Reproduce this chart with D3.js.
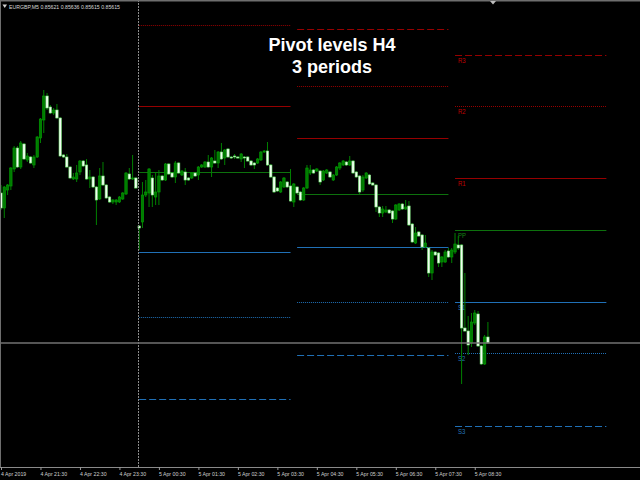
<!DOCTYPE html>
<html><head><meta charset="utf-8">
<script src="https://cdn.jsdelivr.net/npm/d3@7"></script>
<style>
html,body{margin:0;padding:0;background:#000;overflow:hidden}
svg{display:block}
</style></head><body>
<svg id="chart" width="640" height="480"></svg>
<script>
// ---------------- data ----------------
const symbol = "EURGBP";
const timeframe = "M5";
const firstBar = "2019-04-04T20:30:00Z";
const barMinutes = 5;

const open = [0.85765,0.85750,0.85768,0.85772,0.85789,0.85810,0.85791,0.85814,0.85798,0.85801,
0.85793,0.85801,0.85820,0.85838,0.85862,0.85851,0.85845,0.85848,0.85840,0.85803,
0.85801,0.85791,0.85779,0.85779,0.85786,0.85797,0.85793,0.85779,0.85781,0.85771,
0.85759,0.85782,0.85773,0.85761,0.85756,0.85756,0.85756,0.85759,0.85764,0.85784,
0.85779,0.85780,0.85732,0.85736,0.85763,0.85765,0.85780,0.85761,0.85766,0.85782,
0.85778,0.85794,0.85785,0.85781,0.85795,0.85783,0.85786,0.85780,0.85780,0.85785,
0.85783,0.85791,0.85791,0.85796,0.85791,0.85797,0.85795,0.85806,0.85800,0.85809,
0.85801,0.85802,0.85801,0.85799,0.85801,0.85801,0.85797,0.85795,0.85795,0.85798,
0.85806,0.85807,0.85793,0.85781,0.85770,0.85766,0.85771,0.85776,0.85772,0.85756,
0.85771,0.85766,0.85758,0.85770,0.85785,0.85788,0.85787,0.85787,0.85778,0.85785,
0.85786,0.85778,0.85783,0.85790,0.85793,0.85796,0.85793,0.85797,0.85786,0.85782,
0.85768,0.85780,0.85783,0.85775,0.85773,0.85751,0.85745,0.85746,0.85748,0.85747,
0.85739,0.85748,0.85754,0.85749,0.85752,0.85734,0.85715,0.85726,0.85723,0.85711,
0.85710,0.85685,0.85706,0.85705,0.85696,0.85696,0.85707,0.85701,0.85706,0.85713,
0.85713,0.85630,0.85627,0.85615,0.85635,0.85644,0.85612,0.85594,0.85621];

const high = [0.85773,0.85772,0.85774,0.85791,0.85812,0.85812,0.85817,0.85815,0.85805,0.85802,
0.85803,0.85822,0.85840,0.85868,0.85865,0.85853,0.85850,0.85854,0.85841,0.85804,
0.85804,0.85792,0.85785,0.85793,0.85798,0.85798,0.85799,0.85788,0.85782,0.85772,
0.85790,0.85796,0.85774,0.85762,0.85759,0.85759,0.85762,0.85766,0.85786,0.85790,
0.85803,0.85781,0.85733,0.85776,0.85778,0.85790,0.85783,0.85786,0.85788,0.85783,
0.85795,0.85795,0.85786,0.85797,0.85796,0.85788,0.85790,0.85781,0.85786,0.85786,
0.85792,0.85794,0.85797,0.85803,0.85801,0.85808,0.85807,0.85815,0.85809,0.85810,
0.85802,0.85804,0.85802,0.85805,0.85802,0.85802,0.85798,0.85796,0.85800,0.85807,
0.85808,0.85816,0.85794,0.85782,0.85771,0.85777,0.85781,0.85777,0.85789,0.85775,
0.85772,0.85767,0.85771,0.85793,0.85793,0.85789,0.85790,0.85788,0.85788,0.85789,
0.85787,0.85784,0.85792,0.85796,0.85798,0.85797,0.85802,0.85798,0.85787,0.85783,
0.85783,0.85786,0.85784,0.85776,0.85774,0.85752,0.85752,0.85752,0.85749,0.85748,
0.85754,0.85755,0.85755,0.85758,0.85757,0.85735,0.85731,0.85727,0.85724,0.85723,
0.85711,0.85708,0.85707,0.85706,0.85702,0.85708,0.85710,0.85710,0.85725,0.85722,
0.85714,0.85685,0.85642,0.85645,0.85648,0.85647,0.85613,0.85623,0.85636];

const low = [0.85748,0.85740,0.85763,0.85768,0.85786,0.85790,0.85789,0.85798,0.85796,0.85794,
0.85790,0.85800,0.85815,0.85825,0.85848,0.85844,0.85843,0.85839,0.85801,0.85800,
0.85790,0.85779,0.85778,0.85776,0.85783,0.85791,0.85778,0.85770,0.85770,0.85733,
0.85758,0.85772,0.85759,0.85755,0.85754,0.85753,0.85755,0.85758,0.85763,0.85778,
0.85778,0.85769,0.85708,0.85730,0.85761,0.85751,0.85751,0.85753,0.85753,0.85777,
0.85777,0.85783,0.85780,0.85775,0.85784,0.85782,0.85773,0.85777,0.85779,0.85781,
0.85778,0.85790,0.85790,0.85790,0.85781,0.85794,0.85790,0.85798,0.85793,0.85800,
0.85799,0.85799,0.85799,0.85796,0.85790,0.85796,0.85792,0.85789,0.85794,0.85797,
0.85805,0.85792,0.85780,0.85765,0.85766,0.85765,0.85770,0.85770,0.85756,0.85751,
0.85764,0.85757,0.85757,0.85769,0.85783,0.85784,0.85786,0.85773,0.85777,0.85784,
0.85780,0.85777,0.85782,0.85788,0.85792,0.85792,0.85792,0.85784,0.85780,0.85764,
0.85766,0.85779,0.85773,0.85772,0.85746,0.85741,0.85741,0.85745,0.85744,0.85735,
0.85738,0.85747,0.85748,0.85748,0.85732,0.85715,0.85714,0.85721,0.85708,0.85710,
0.85681,0.85678,0.85702,0.85691,0.85691,0.85695,0.85700,0.85695,0.85704,0.85708,
0.85574,0.85626,0.85603,0.85611,0.85633,0.85611,0.85593,0.85593,0.85615];

const close = [0.85750,0.85771,0.85773,0.85790,0.85810,0.85791,0.85815,0.85799,0.85802,0.85795,
0.85801,0.85821,0.85839,0.85862,0.85850,0.85845,0.85848,0.85840,0.85802,0.85801,
0.85791,0.85780,0.85781,0.85785,0.85797,0.85792,0.85779,0.85781,0.85771,0.85758,
0.85782,0.85773,0.85760,0.85756,0.85758,0.85758,0.85761,0.85765,0.85785,0.85779,
0.85780,0.85770,0.85730,0.85763,0.85766,0.85789,0.85763,0.85766,0.85782,0.85778,
0.85794,0.85784,0.85781,0.85795,0.85785,0.85787,0.85778,0.85778,0.85785,0.85782,
0.85791,0.85793,0.85796,0.85791,0.85800,0.85795,0.85806,0.85799,0.85808,0.85801,
0.85800,0.85801,0.85800,0.85804,0.85800,0.85797,0.85793,0.85793,0.85799,0.85806,
0.85807,0.85793,0.85781,0.85766,0.85767,0.85776,0.85780,0.85771,0.85757,0.85774,
0.85765,0.85758,0.85770,0.85790,0.85788,0.85785,0.85789,0.85776,0.85787,0.85788,
0.85781,0.85783,0.85791,0.85795,0.85797,0.85793,0.85797,0.85785,0.85781,0.85766,
0.85781,0.85785,0.85774,0.85773,0.85751,0.85745,0.85749,0.85748,0.85745,0.85739,
0.85753,0.85754,0.85749,0.85751,0.85733,0.85716,0.85725,0.85722,0.85711,0.85715,
0.85685,0.85706,0.85703,0.85695,0.85701,0.85706,0.85701,0.85708,0.85714,0.85710,
0.85630,0.85627,0.85613,0.85636,0.85645,0.85612,0.85594,0.85621,0.85615];

// H4 pivot periods and their levels
const periodStarts = ["2019-04-05T00:00:00Z","2019-04-05T04:00:00Z","2019-04-05T08:00:00Z"];
const periodDrawMinutes = 230;
const levelNames = ["R3","R2","R1","PP","S1","S2","S3"];
const levelR3 = [0.85998,0.85929,0.85903];
const levelR2 = [0.85933,0.85872,0.85852];
const levelR1 = [0.85852,0.85820,0.85780];
const levelPP = [0.85786,0.85764,0.85728];
const levelS1 = [0.85706,0.85711,0.85656];
const levelS2 = [0.85641,0.85656,0.85605];
const levelS3 = [0.85559,0.85603,0.85532];

const daySeparators = ["2019-04-05T00:00:00Z"];
const tickTimes = ["2019-04-04T20:30:00Z","2019-04-04T21:30:00Z","2019-04-04T22:30:00Z","2019-04-04T23:30:00Z",
"2019-04-05T00:30:00Z","2019-04-05T01:30:00Z","2019-04-05T02:30:00Z","2019-04-05T03:30:00Z","2019-04-05T04:30:00Z",
"2019-04-05T05:30:00Z","2019-04-05T06:30:00Z","2019-04-05T07:30:00Z","2019-04-05T08:30:00Z"];
const tickLabels = ["4 Apr 2019","4 Apr 21:30","4 Apr 22:30","4 Apr 23:30","5 Apr 00:30","5 Apr 01:30",
"5 Apr 02:30","5 Apr 03:30","5 Apr 04:30","5 Apr 05:30","5 Apr 06:30","5 Apr 07:30","5 Apr 08:30"];
const titleLines = ["Pivot levels H4","3 periods"];
const priceMin = 0.85491, priceMax = 0.85958;

// ---------------- drawing ----------------
const W = 640, H = 480, plotBottom = 467, barSpacing = 3.29;
const svg = d3.select("#chart");
svg.append("rect").attr("width",W).attr("height",H).attr("fill","#000");

const t0 = new Date(firstBar);
const nBars = close.length;
const times = d3.range(nBars).map(i => new Date(t0.getTime() + i*barMinutes*60000));
const x = d3.scaleUtc()
  .domain([t0, times[nBars-1]])
  .range([1, 1 + (nBars-1)*barSpacing]);
const y = d3.scaleLinear().domain([priceMin, priceMax]).range([plotBottom, 0]);

svg.append("defs").append("clipPath").attr("id","plot")
  .append("rect").attr("x",0).attr("y",0).attr("width",W).attr("height",plotBottom);
const plot = svg.append("g").attr("clip-path","url(#plot)");

const smallFont = "'Liberation Sans',Arial,sans-serif";

// pivot levels
const levelData = [levelR3,levelR2,levelR1,levelPP,levelS1,levelS2,levelS3];
const levelColor = {R3:"#960000",R2:"#960000",R1:"#960000",PP:"#0d710d",S1:"#2070b6",S2:"#2070b6",S3:"#2070b6"};
const labelColor = {R3:"#c00000",R2:"#c00000",R1:"#c00000",PP:"#158515",S1:"#2675bb",S2:"#2675bb",S3:"#2675bb"};
const levelDash = {R3:"7,3",R2:"1,1",R1:null,PP:null,S1:null,S2:"1,1",S3:"7,3"};
const segs = [];
periodStarts.forEach((ps,p) => {
  const s = new Date(ps), e = new Date(s.getTime() + periodDrawMinutes*60000);
  levelNames.forEach((nm,k) => segs.push({p, nm, s, e, v: levelData[k][p]}));
});
plot.selectAll("line.lvl").data(segs).join("line")
  .attr("class","lvl")
  .attr("x1", d => x(d.s)).attr("x2", d => x(d.e))
  .attr("y1", d => Math.round(y(d.v))+0.5).attr("y2", d => Math.round(y(d.v))+0.5)
  .attr("stroke", d => levelColor[d.nm]).attr("stroke-width", 1.15)
  .attr("stroke-dasharray", d => levelDash[d.nm]);
const lastP = periodStarts.length-1;
plot.selectAll("text.lvl").data(segs.filter(d => d.p === lastP)).join("text")
  .attr("class","lvl")
  .attr("transform", d => `translate(${x(d.s)+3},${y(d.v)+7.8}) scale(0.8,1)`)
  .attr("fill", d => labelColor[d.nm])
  .attr("font-family",smallFont)
  .attr("font-size",7.5).text(d => d.nm);

// candles
const bars = d3.range(nBars).map(i => ({t: times[i], o: open[i], h: high[i], l: low[i], c: close[i]}));
plot.selectAll("line.wick").data(bars).join("line")
  .attr("class","wick")
  .attr("x1", d => x(d.t)).attr("x2", d => x(d.t))
  .attr("y1", d => y(d.h)).attr("y2", d => y(d.l))
  .attr("stroke","#008000").attr("stroke-width",1);
plot.selectAll("rect.body").data(bars).join("rect")
  .attr("class","body")
  .attr("x", d => x(d.t)-1.2).attr("width", 2.4)
  .attr("y", d => y(Math.max(d.o,d.c)))
  .attr("height", d => Math.max(1, Math.abs(y(d.o)-y(d.c))))
  .attr("fill", d => d.c >= d.o ? "#007c00" : "#f0fff0")
  .attr("stroke", d => d.c >= d.o ? "#00a000" : "#76e276")
  .attr("stroke-width",0.6);

// day separator
plot.selectAll("line.sep").data(daySeparators).join("line")
  .attr("class","sep")
  .attr("x1", d => Math.round(x(new Date(d)))-0.5).attr("x2", d => Math.round(x(new Date(d)))-0.5)
  .attr("y1",0).attr("y2",plotBottom)
  .attr("stroke","#8c8c8c").attr("stroke-width",1).attr("stroke-dasharray","2,1");

// bid line
const bid = close[nBars-1];
svg.append("line").attr("x1",0).attr("x2",W)
  .attr("y1",Math.round(y(bid))).attr("y2",Math.round(y(bid)))
  .attr("stroke","#727272").attr("stroke-width",1.6);

// borders
svg.append("line").attr("x1",0).attr("x2",W).attr("y1",0.75).attr("y2",0.75)
  .attr("stroke","#6e6e6e").attr("stroke-width",1.5);
svg.append("line").attr("x1",0.5).attr("x2",0.5).attr("y1",0).attr("y2",plotBottom)
  .attr("stroke","#6e6e6e").attr("stroke-width",1);
svg.append("line").attr("x1",0).attr("x2",W).attr("y1",plotBottom+0.5).attr("y2",plotBottom+0.5)
  .attr("stroke","#8a8a8a").attr("stroke-width",1);
// chart shift marker
svg.append("path").attr("d","M490,1 L496,1 L493,4.5 Z").attr("fill","#bdbdbd");

// time axis
const axisG = svg.append("g").attr("transform",`translate(0,${plotBottom})`)
  .call(d3.axisBottom(x).tickValues(tickTimes.map(t => new Date(t)))
    .tickFormat((d,i) => tickLabels[i]).tickSize(3).tickPadding(2));
axisG.select(".domain").remove();
axisG.attr("font-family",smallFont).attr("font-size",6.2);
axisG.selectAll(".tick line").attr("stroke","#9a9a9a");
axisG.selectAll(".tick text").attr("text-anchor","start").attr("x",0)
  .attr("transform","translate(-0.5,0) scale(0.84,1)").attr("fill","#cfcfcf");

// header
svg.append("path").attr("d","M2.5,4.5 L7,4.5 L4.75,8 Z").attr("fill","#d0d0d0");
svg.append("text").attr("transform","translate(9,9.2) scale(0.84,1)")
  .attr("font-family",smallFont).attr("font-size",6.2).attr("fill","#d8d8d8")
  .text(`${symbol},${timeframe}  ${open[nBars-1].toFixed(5)} ${high[nBars-1].toFixed(5)} ${low[nBars-1].toFixed(5)} ${close[nBars-1].toFixed(5)}`);

// title
svg.selectAll("text.title").data(titleLines).join("text")
  .attr("class","title")
  .attr("x",332).attr("y",(d,i) => 51 + i*21.5)
  .attr("text-anchor","middle")
  .attr("font-family","'Liberation Sans',Arial,sans-serif")
  .attr("font-size",18).attr("font-weight","bold").attr("fill","#ffffff")
  .text(d => d);
</script>
</body></html>
